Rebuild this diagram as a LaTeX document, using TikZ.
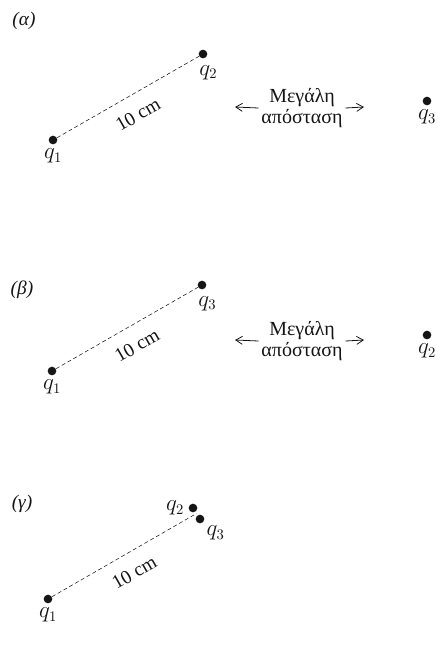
\documentclass[tikz,border=0pt]{standalone}
\usepackage{fontspec}
\setmainfont{Liberation Serif}
\usepackage{tikz}
\usetikzlibrary{arrows.meta,calc,positioning}
\definecolor{Ink}{HTML}{151515}
\tikzset{chargedot/.style={circle,fill=Ink,minimum size=6.5pt,inner sep=0pt},qlab/.style={font=\fontsize{16}{18}\selectfont,inner sep=1pt,text=Ink,label distance=2pt},gap/.style={dash pattern=on 3pt off 2pt,thin,draw=Ink},farrow/.style={-{Straight Barb[length=5pt,width=6pt]},semithick,draw=Ink},distlab/.style={align=center,font=\fontsize{15}{16}\selectfont,inner sep=2pt,text=Ink},panel/.style={font=\fontsize{14.5}{17}\selectfont\itshape,text=Ink},cmlab/.style={sloped,below=9pt,pos=.5,font=\fontsize{14.5}{17}\selectfont,inner sep=1pt,text=Ink}}
\begin{document}
\begin{tikzpicture}[x=0.75pt,y=-0.75pt]
      \useasboundingbox (0,0) rectangle (438,658);
      \node[panel](pa) at (24,21){(α)};
      \node[chargedot,label={[qlab]below:$q_1$}](a1) at (53,140){};
      \node[chargedot,label={[qlab,xshift=4pt,label distance=4pt]below:$q_2$}](a2) at (203,54){};
      \node[chargedot,label={[qlab]below:$q_3$}](a3) at (427,101){};
      \draw[gap](a1)--node[cmlab]{10 cm}(a2);
      \node[distlab](da) at (302,108){Μεγάλη\\απόσταση};
      \coordinate (al) at (235,107);\coordinate (ar) at (364,107);
      \draw[farrow](da.west)--(al);\draw[farrow](da.east)--(ar);
      \node[panel](pb) at (22,290){(β)};
      \node[chargedot,label={[qlab]below:$q_1$}](b1) at (52,371){};
      \node[chargedot,label={[qlab,xshift=4pt,label distance=4pt]below:$q_3$}](b3) at (202,285){};
      \node[chargedot,label={[qlab]below:$q_2$}](b2) at (427,335){};
      \draw[gap](b1)--node[cmlab]{10 cm}(b3);
      \node[distlab](db) at (302,341){Μεγάλη\\απόσταση};
      \coordinate (bl) at (235,340);\coordinate (br) at (364,340);
      \draw[farrow](db.west)--(bl);\draw[farrow](db.east)--(br);
      \node[panel](pc) at (22,504){(γ)};
      \node[chargedot,label={[qlab]below:$q_1$}](c1) at (48,599){};
      \node[chargedot,label={[qlab]left:$q_2$}](c2) at (193,508){};
      \node[chargedot,label={[qlab]below right:$q_3$}](c3) at (200,519){};
      \coordinate (cm) at ($(c2)!0.5!(c3)$);
      \draw[gap](c1)--node[cmlab]{10 cm}(cm);
    \end{tikzpicture}
\end{document}
